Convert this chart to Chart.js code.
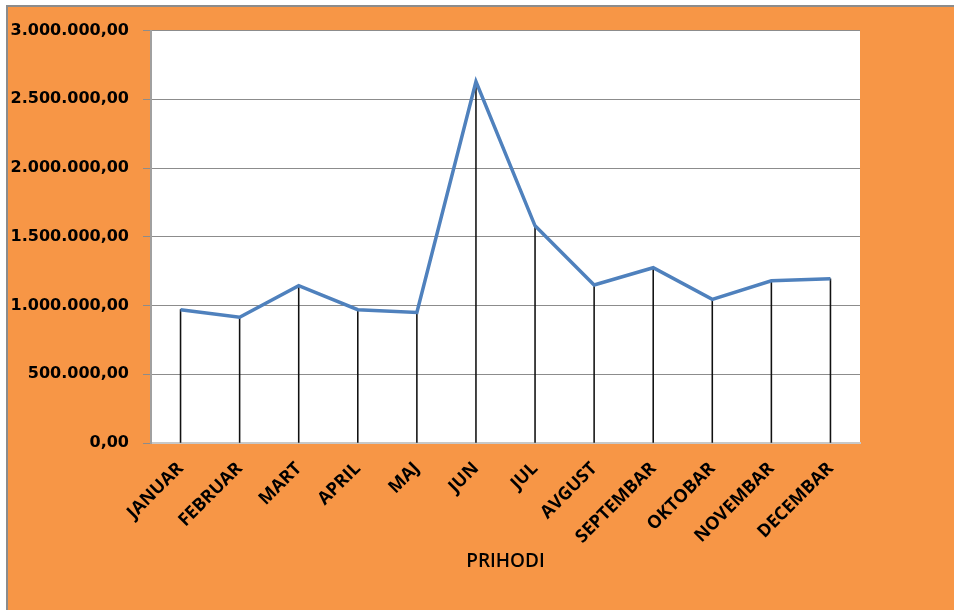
<!DOCTYPE html>
<html>
<head>
<meta charset="utf-8">
<script src="https://cdn.jsdelivr.net/npm/chart.js@4"></script>
<style>
    html, body { margin: 0; background: #fff; overflow: hidden; }
    #frame {
        position: absolute; left: 6px; top: 5px;
        width: 946px; height: 603px;
        border-left: 2px solid #8c8c8c; border-top: 2px solid #8c8c8c;
        background: #F79646;
    }
    #wrap { position: absolute; left: 0; top: 0; width: 946px; height: 603px; }
</style>
</head>
<body>
<div id="frame"><div id="wrap"><canvas id="chart"></canvas></div></div>
<script>
const months = ["JANUAR", "FEBRUAR", "MART", "APRIL", "MAJ", "JUN", "JUL",
    "AVGUST", "SEPTEMBAR", "OKTOBAR", "NOVEMBAR", "DECEMBAR"];
const prihodi = [970000, 915000, 1145000, 970000, 950000, 2630000, 1580000,
    1150000, 1275000, 1045000, 1180000, 1195000];
const yTicks = [0, 500000, 1000000, 1500000, 2000000, 2500000, 3000000];

// 3.000.000,00 style
function formatBroj(v) {
    const s = Math.round(v).toString().replace(/\B(?=(\d{3})+(?!\d))/g, ".");
    return s + ",00";
}

// white plot area
const plotBg = {
    id: "plotBg",
    beforeDraw(chart) {
        const {ctx, chartArea: a} = chart;
        ctx.save();
        ctx.fillStyle = "#ffffff";
        ctx.fillRect(a.left, a.top, a.right - a.left, a.bottom - a.top);
        ctx.restore();
    },
};

new Chart(document.getElementById("chart"), {
    type: "line",
    data: {
        labels: months,
        datasets: [
            {
                type: "line",
                data: prihodi,
                borderColor: "#4F81BD",
                borderWidth: 3.5,
                pointRadius: 0,
                tension: 0,
                order: 0,
            },
            {
                // vertical drop lines
                type: "bar",
                data: prihodi,
                backgroundColor: "#111111",
                barThickness: 0.9,
                order: 1,
            },
        ],
    },
    options: {
        responsive: true,
        maintainAspectRatio: false,
        animation: false,
        layout: {padding: {top: 22, right: 94, bottom: 26, left: 0}},
        plugins: {legend: {display: false}, tooltip: {enabled: false}},
        scales: {
            x: {
                offset: true,
                grid: {display: false, drawTicks: false},
                border: {color: "#c8c8c8", width: 2},
                ticks: {
                    color: "#000",
                    minRotation: 45,
                    maxRotation: 45,
                    padding: 15,
                    font: {family: "Open Sans", weight: "bold", size: 18},
                },
                title: {
                    display: true,
                    text: "PRIHODI",
                    color: "#000",
                    padding: {top: 4, bottom: 11},
                    font: {family: "Open Sans", size: 19, weight: "600"},
                },
                afterFit(scale) { scale.height = 141; },
            },
            y: {
                min: 0,
                max: 3000000,
                afterBuildTicks(scale) {
                    scale.ticks = yTicks.map(v => ({value: v}));
                },
                grid: {color: "#8c8c8c", lineWidth: 1, tickLength: 8},
                border: {color: "#a0a0a0", width: 2},
                ticks: {
                    color: "#000",
                    padding: 14,
                    font: {family: "DejaVu Sans", weight: "bold", size: 16},
                    callback: v => formatBroj(v),
                },
                afterFit(scale) { scale.width = 143; },
            },
        },
    },
    plugins: [plotBg],
});
</script>
</body>
</html>
